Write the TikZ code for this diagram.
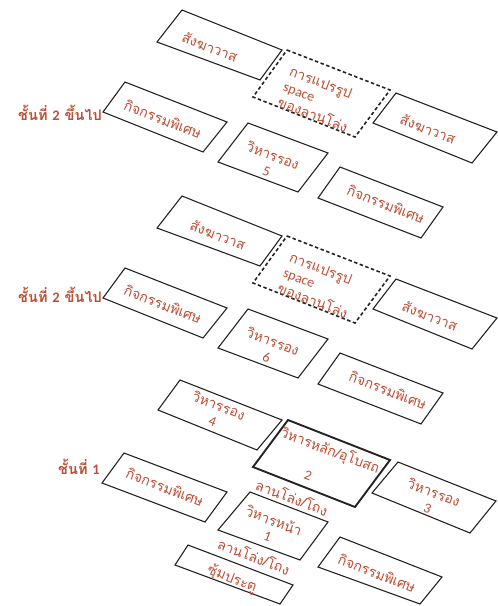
\documentclass[tikz,border=0pt]{standalone}
\usepackage{fontspec}
\newfontfamily\thaifont[Script=Thai]{Loma}
\newfontfamily\latfont{Carlito}
\definecolor{txt}{RGB}{188,78,52}
\definecolor{ln}{RGB}{35,35,35}
\tikzset{
  pbox/.style={draw=ln, line width=1.1pt, line join=miter},
  pboxthick/.style={draw=ln, line width=1.9pt, line join=miter},
  dbox/.style={draw=ln, line width=1.6pt, dash pattern=on 3.5pt off 2.5pt},
  lbl/.style={text=txt, font=\thaifont\fontsize{14}{16.5}\selectfont, rotate=-21, align=center, inner sep=0pt},
  lblleft/.style={lbl, align=left},
  floorlbl/.style={text=txt, font=\thaifont\bfseries\fontsize{14.5}{17}\selectfont, inner sep=0pt}
}
\begin{document}
\begin{tikzpicture}[x=1pt,y=-1pt]
\useasboundingbox (0,0) rectangle (498,606);

% ---------- upper floor group (ชั้นที่ 2 ขึ้นไป) ----------
\draw[pbox] (182,10) -- (282,50) -- (260,80) -- (157,42) -- cycle;
\node[lbl] (a1) at (210,47) {สังฆาวาส};
\draw[dbox] (287,50) -- (390,90) -- (355,137) -- (253,97) -- cycle;
\node[lblleft, anchor=west] (a2) at (284,86) {การแปรรูป\\{\latfont space}\\ของลานโล่ง};
\draw[pbox] (396,93) -- (497,132) -- (472,163) -- (373,123) -- cycle;
\node[lbl] (a3) at (428,129) {สังฆาวาส};
\draw[pbox] (125,82) -- (227,122) -- (203,152) -- (103,112) -- cycle;
\node[lbl] (a4) at (163,119) {กิจกรรมพิเศษ};
\draw[pbox] (248,123) -- (328,153) -- (298,192) -- (218,162) -- cycle;
\node[lbl] (a5) at (270,163) {วิหารรอง\\{\latfont 5}};
\draw[pbox] (340,167) -- (443,207) -- (421,238) -- (318,198) -- cycle;
\node[lbl] (a6) at (386,204) {กิจกรรมพิเศษ};
\node[floorlbl] (f2a) at (60,113) {ชั้นที่ {\latfont\bfseries 2} ขึ้นไป};

% ---------- middle floor group (ชั้นที่ 2 ขึ้นไป) ----------
\draw[pbox] (182,196) -- (282,236) -- (260,266) -- (157,228) -- cycle;
\node[lbl] (b1) at (218,235) {สังฆาวาส};
\draw[dbox] (287,236) -- (390,276) -- (355,323) -- (253,283) -- cycle;
\node[lblleft, anchor=west] (b2) at (284,272) {การแปรรูป\\{\latfont space}\\ของลานโล่ง};
\draw[pbox] (396,279) -- (497,318) -- (472,349) -- (373,309) -- cycle;
\node[lbl] (b3) at (430,316) {สังฆาวาส};
\draw[pbox] (125,268) -- (227,308) -- (203,338) -- (103,298) -- cycle;
\node[lbl] (b4) at (163,304) {กิจกรรมพิเศษ};
\draw[pbox] (248,309) -- (328,339) -- (298,378) -- (218,348) -- cycle;
\node[lbl] (b5) at (270,349) {วิหารรอง\\{\latfont 6}};
\draw[pbox] (340,353) -- (443,393) -- (421,424) -- (318,384) -- cycle;
\node[lbl] (b6) at (388,390) {กิจกรรมพิเศษ};
\node[floorlbl] (f2b) at (60,295) {ชั้นที่ {\latfont\bfseries 2} ขึ้นไป};

% ---------- ground floor group (ชั้นที่ 1) ----------
\draw[pbox] (180,380) -- (282,420) -- (257,450) -- (158,410) -- cycle;
\node[lbl] (c1) at (216,413) {วิหารรอง\\{\latfont 4}};
\draw[pboxthick] (288,420) -- (390,460) -- (355,507) -- (253,467) -- cycle;
\node[lbl] (c2) at (330,451) {วิหารหลัก/อุโบสถ};
\node[lbl] (c2n) at (308,476) {\latfont 2};
\node[lbl] (c2l) at (292,497) {ลานโล่ง/โถง};
\draw[pbox] (398,462) -- (496,501) -- (470,533) -- (372,493) -- cycle;
\node[lbl] (c3) at (431,500) {วิหารรอง\\{\latfont 3}};
\draw[pbox] (124,453) -- (227,492) -- (205,522) -- (102,483) -- cycle;
\node[lbl] (c4) at (165,487) {กิจกรรมพิเศษ};
\draw[pbox] (250,492) -- (328,522) -- (300,560) -- (218,530) -- cycle;
\node[lbl] (c5) at (271,528) {วิหารหน้า\\{\latfont 1}};
\node[lbl] (c5l) at (254,556) {ลานโล่ง/โถง};
\draw[pbox] (188,545) -- (293,585) -- (280,604) -- (175,565) -- cycle;
\node[lbl] (c6) at (232,579) {ซุ้มประตู};
\draw[pbox] (340,537) -- (442,577) -- (420,604) -- (318,567) -- cycle;
\node[lbl] (c7) at (377,573) {กิจกรรมพิเศษ};
\node[floorlbl] (f1) at (79,467) {ชั้นที่ {\latfont\bfseries 1}};
\end{tikzpicture}
\end{document}
